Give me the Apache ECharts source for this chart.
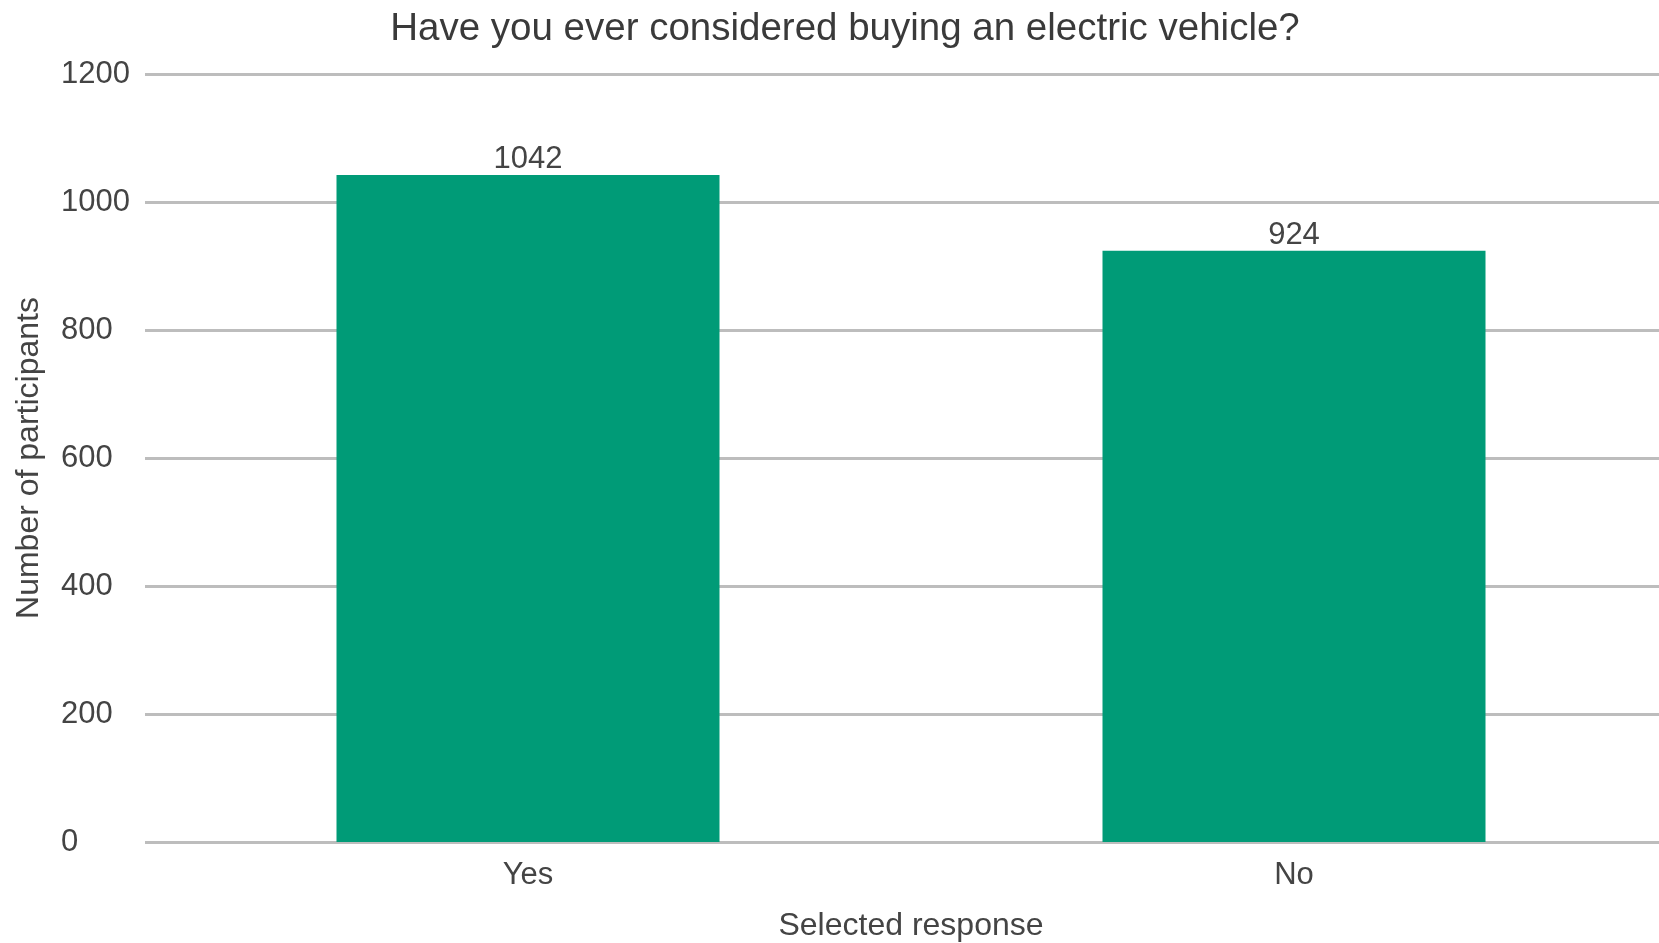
<!DOCTYPE html>
<html>
<head>
<meta charset="utf-8">
<script src="https://cdn.jsdelivr.net/npm/echarts@6/dist/echarts.min.js"></script>
<style>html,body{margin:0;padding:0;background:#fff;}#c{width:1659px;height:943px;}</style>
</head>
<body>
<div id="c"></div>
<script>
const titleText = 'Have you ever considered buying an electric vehicle?';
const categories = ['Yes', 'No'];
const participants = [1042, 924];
const yTicks = [0, 200, 400, 600, 800, 1000, 1200];
const xAxisName = 'Selected response';
const yAxisName = 'Number of participants';

const font = 'Arial, "Liberation Sans", Helvetica, sans-serif';
const chart = echarts.init(document.getElementById('c'), null, {renderer: 'canvas'});
chart.setOption({
  backgroundColor: '#ffffff',
  animation: false,
  title: {
    text: titleText,
    left: 840, top: 5, textAlign: 'center',
    textStyle: {fontFamily: font, fontSize: 38.5, fontWeight: 'normal', color: '#3a3a3a'}
  },
  grid: {left: 145, right: -18, top: 74, bottom: 101, containLabel: false, outerBoundsMode: 'none'},
  xAxis: {
    type: 'category',
    data: categories,
    name: xAxisName,
    nameLocation: 'middle',
    nameGap: 68,
    nameTextStyle: {fontFamily: font, fontSize: 32, color: '#444'},
    axisLine: {show: false},
    axisTick: {show: false},
    axisLabel: {fontFamily: font, fontSize: 31, color: '#444', margin: 18}
  },
  yAxis: {
    type: 'value',
    min: yTicks[0], max: yTicks[yTicks.length - 1], interval: yTicks[1] - yTicks[0],
    name: yAxisName,
    nameLocation: 'middle',
    nameGap: 100,
    nameTextStyle: {fontFamily: font, fontSize: 32, color: '#444'},
    axisLine: {show: false},
    axisTick: {show: false},
    axisLabel: {fontFamily: font, fontSize: 31, color: '#444', align: 'left', margin: 84,
      formatter: function (v) { return String(v); }},
    splitLine: {lineStyle: {color: '#bdbdbd', width: 3}}
  },
  series: [{
    type: 'bar',
    data: participants,
    barWidth: '50%',
    itemStyle: {color: '#009b77'},
    label: {show: true, position: 'top', distance: 0, fontFamily: font, fontSize: 31, color: '#444'}
  }]
});
</script>
</body>
</html>
